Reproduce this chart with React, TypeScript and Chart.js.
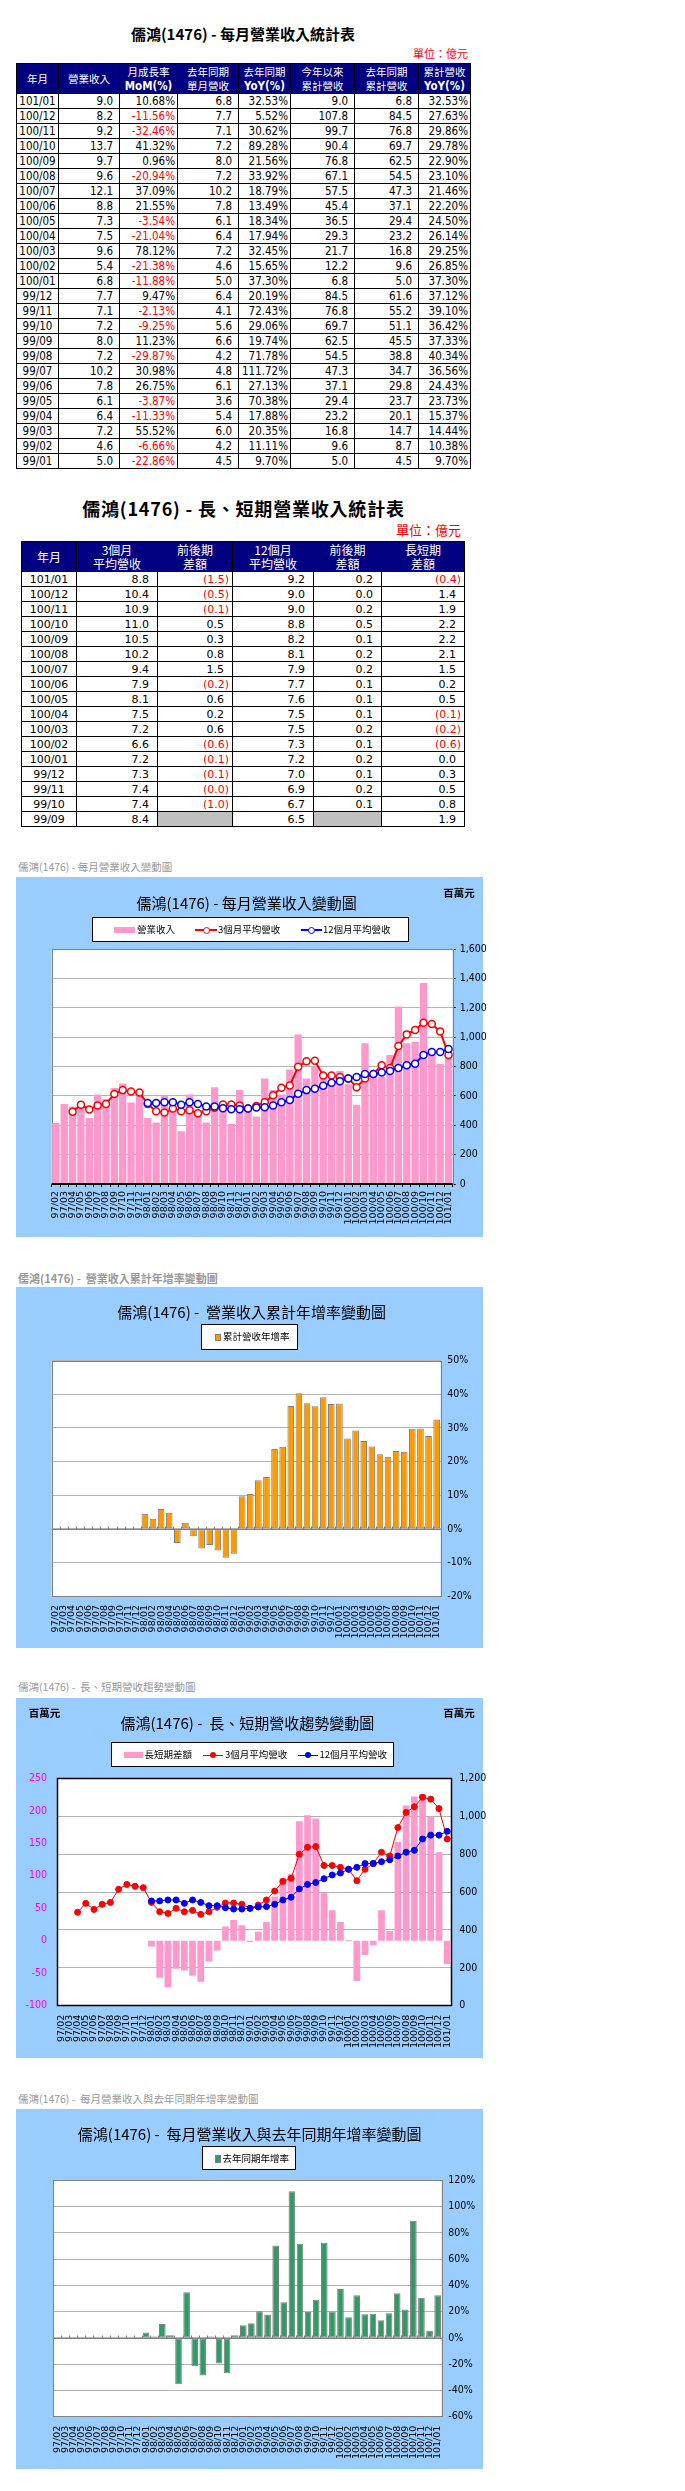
import React, { useEffect, useRef } from "react";
import { Chart, registerables } from "chart.js";
Chart.register(...registerables);

const CJK = '"Noto Sans CJK TC","Noto Sans CJK SC","Noto Sans",sans-serif';
const NARROW = '"Liberation Sans Narrow","Arial Narrow","DejaVu Sans Condensed","Liberation Sans",sans-serif';
const DEJAVU = '"DejaVu Sans",sans-serif';

// ---------------- chart data (百萬元 / %) ----------------
const months = [
  "97/02","97/03","97/04","97/05","97/06","97/07","97/08","97/09","97/10","97/11","97/12",
  "98/01","98/02","98/03","98/04","98/05","98/06","98/07","98/08","98/09","98/10","98/11","98/12",
  "99/01","99/02","99/03","99/04","99/05","99/06","99/07","99/08","99/09","99/10","99/11","99/12",
  "100/01","100/02","100/03","100/04","100/05","100/06","100/07","100/08","100/09","100/10","100/11","100/12",
  "101/01",
];
const revenue = [
  416, 545, 529, 550, 450, 610, 580, 655, 685, 555, 630,
  450, 420, 600, 540, 360, 610, 480, 420, 660, 560, 410, 640,
  500, 460, 720, 640, 610, 780, 1020, 720, 800, 720, 710, 770,
  680, 540, 960, 750, 730, 880, 1210, 960, 970, 1370, 920, 820,
  900,
];
const avg3 = [
  null, null, 493, 540, 508, 535, 545, 614, 640, 630, 623,
  545, 496, 487, 514, 496, 503, 482, 496, 519, 542, 542, 535,
  514, 531, 558, 605, 656, 672, 799, 836, 840, 740, 740, 730,
  720, 660, 720, 750, 810, 790, 940, 1020, 1050, 1100, 1090, 1040,
  880,
];
const avg12 = [
  null, null, null, null, null, null, null, null, null, null, null,
  553, 553, 558, 558, 540, 558, 545, 528, 528, 517, 510, 510,
  514, 521, 523, 535, 558, 572, 616, 640, 650, 670, 690, 700,
  720, 730, 750, 750, 760, 770, 790, 810, 820, 880, 900, 900,
  920,
];
const longShortDiff = [
  null, null, null, null, null, null, null, null, null, null, null,
  -9, -57, -72, -43, -46, -54, -63, -32, -15, 22, 32, 24,
  -2, 14, 29, 68, 96, 103, 184, 193, 188, 74, 47, 29,
  1, -62, -22, -7, 47, 15, 152, 208, 222, 226, 191, 136,
  -36,
];
const cumYoY = [
  null, null, null, null, null, null, null, null, null, null, null,
  4.5, 3.0, 5.9, 4.8, -4.2, 1.8, -2.2, -5.9, -4.8, -6.5, -8.6, -7.4,
  9.70, 10.38, 14.44, 15.37, 23.73, 24.43, 36.56, 40.34, 37.33, 36.42, 39.10, 37.12,
  37.30, 26.85, 29.25, 26.14, 24.50, 22.20, 21.46, 23.10, 22.90, 29.78, 29.86, 27.63,
  32.53,
];
const monthlyYoY = [
  null, null, null, null, null, null, null, null, null, null, null,
  4.1, 1.0, 10.5, 2.0, -35.2, 34.7, -21.5, -28.6, 1.0, -19.4, -27.0, 2.0,
  9.70, 11.11, 20.35, 17.88, 70.38, 27.13, 111.72, 71.78, 19.74, 29.06, 72.43, 20.19,
  37.30, 15.65, 32.45, 17.94, 18.34, 13.49, 18.79, 33.92, 21.56, 89.28, 30.62, 5.52,
  32.53,
];
// axis ranges [min, max, step]
const revenueAxis = [0, 1600, 200];
const cumYoYAxis = [-20, 50, 10];
const diffAxis = [-100, 250, 50];
const avgAxis = [0, 1200, 200];
const yoyAxis = [-60, 120, 20];

// ---------------- table 1 data (億元) ----------------
const t1Months = ["101/01","100/12","100/11","100/10","100/09","100/08","100/07","100/06","100/05","100/04","100/03","100/02","100/01","99/12","99/11","99/10","99/09","99/08","99/07","99/06","99/05","99/04","99/03","99/02","99/01"];
const t1Revenue = [9.0,8.2,9.2,13.7,9.7,9.6,12.1,8.8,7.3,7.5,9.6,5.4,6.8,7.7,7.1,7.2,8.0,7.2,10.2,7.8,6.1,6.4,7.2,4.6,5.0];
const t1MoM = [10.68,-11.56,-32.46,41.32,0.96,-20.94,37.09,21.55,-3.54,-21.04,78.12,-21.38,-11.88,9.47,-2.13,-9.25,11.23,-29.87,30.98,26.75,-3.87,-11.33,55.52,-6.66,-22.86];
const t1LastYear = [6.8,7.7,7.1,7.2,8.0,7.2,10.2,7.8,6.1,6.4,7.2,4.6,5.0,6.4,4.1,5.6,6.6,4.2,4.8,6.1,3.6,5.4,6.0,4.2,4.5];
const t1YoY = [32.53,5.52,30.62,89.28,21.56,33.92,18.79,13.49,18.34,17.94,32.45,15.65,37.30,20.19,72.43,29.06,19.74,71.78,111.72,27.13,70.38,17.88,20.35,11.11,9.70];
const t1Cum = [9.0,107.8,99.7,90.4,76.8,67.1,57.5,45.4,36.5,29.3,21.7,12.2,6.8,84.5,76.8,69.7,62.5,54.5,47.3,37.1,29.4,23.2,16.8,9.6,5.0];
const t1LastCum = [6.8,84.5,76.8,69.7,62.5,54.5,47.3,37.1,29.4,23.2,16.8,9.6,5.0,61.6,55.2,51.1,45.5,38.8,34.7,29.8,23.7,20.1,14.7,8.7,4.5];
const t1CumYoY = [32.53,27.63,29.86,29.78,22.90,23.10,21.46,22.20,24.50,26.14,29.25,26.85,37.30,37.12,39.10,36.42,37.33,40.34,36.56,24.43,23.73,15.37,14.44,10.38,9.70];
const t1Headers = [["年月"], ["營業收入"], ["月成長率", "MoM(%)"], ["去年同期", "單月營收"], ["去年同期", "YoY(%)"], ["今年以來", "累計營收"], ["去年同期", "累計營收"], ["累計營收", "YoY(%)"]];

// ---------------- table 2 data (億元) ----------------
const t2Months = ["101/01","100/12","100/11","100/10","100/09","100/08","100/07","100/06","100/05","100/04","100/03","100/02","100/01","99/12","99/11","99/10","99/09"];
const t2Avg3 = [8.8,10.4,10.9,11.0,10.5,10.2,9.4,7.9,8.1,7.5,7.2,6.6,7.2,7.3,7.4,7.4,8.4];
const t2Avg3Diff = [-1.5,-0.5,-0.1,0.5,0.3,0.8,1.5,-0.2,0.6,0.2,0.6,-0.6,-0.1,-0.1,-0.04,-1.0,null];
const t2Avg12 = [9.2,9.0,9.0,8.8,8.2,8.1,7.9,7.7,7.6,7.5,7.5,7.3,7.2,7.0,6.9,6.7,6.5];
const t2Avg12Diff = [0.2,0.0,0.2,0.5,0.1,0.2,0.2,0.1,0.1,0.1,0.2,0.1,0.2,0.1,0.2,0.1,null];
const t2LongShort = [-0.4,1.4,1.9,2.2,2.2,2.1,1.5,0.2,0.5,-0.1,-0.2,-0.6,0.0,0.3,0.5,0.8,1.9];
const t2Headers = [["年月"], ["3個月", "平均營收"], ["前後期", "差額"], ["12個月", "平均營收"], ["前後期", "差額"], ["長短期", "差額"]];

// ---------------- helpers ----------------
type TP = { x: number; y: number; align?: "left" | "center" | "right"; style?: React.CSSProperties; children: React.ReactNode };
function T({ x, y, align = "center", style, children }: TP) {
  const tr = align === "center" ? "translate(-50%,-50%)" : align === "left" ? "translate(0,-50%)" : "translate(-100%,-50%)";
  return (
    <div style={{ position: "absolute", left: x, top: y, transform: tr, whiteSpace: "pre", lineHeight: 1, fontFamily: CJK, ...style }}>
      {children}
    </div>
  );
}
function Box({ l, t, w, h, style }: { l: number; t: number; w: number; h: number; style?: React.CSSProperties }) {
  return <div style={{ position: "absolute", left: l, top: t, width: w, height: h, boxSizing: "border-box", ...style }} />;
}

const framePlugin: any = {
  id: "frame",
  beforeDraw(chart: any) {
    const { ctx, chartArea: a } = chart;
    ctx.save();
    ctx.fillStyle = "#ffffff";
    ctx.fillRect(a.left, a.top, a.right - a.left, a.bottom - a.top);
    ctx.restore();
  },
  beforeDatasetsDraw(chart: any, _args: any, o: any) {
    const { ctx, chartArea: a } = chart;
    ctx.save();
    if (o.zeroLine) {
      const y0 = Math.round(chart.scales.y.getPixelForValue(0)) + 0.5;
      const n = chart.data.labels.length;
      const w = (a.right - a.left) / n;
      ctx.strokeStyle = "#808080";
      ctx.lineWidth = 1;
      ctx.beginPath();
      ctx.moveTo(a.left, y0);
      ctx.lineTo(a.right, y0);
      for (let i = 0; i <= n; i++) {
        const x = Math.round(a.left + i * w) + 0.5;
        ctx.moveTo(x, y0);
        ctx.lineTo(x, y0 - 3);
      }
      ctx.stroke();
    }
    ctx.strokeStyle = o.color || "#808080";
    ctx.lineWidth = o.width || 1;
    ctx.strokeRect(Math.round(a.left) + 0.5, Math.round(a.top) + 0.5, Math.round(a.right - a.left), Math.round(a.bottom - a.top));
    ctx.restore();
  },
  afterDatasetsDraw(chart: any, _args: any, o: any) {
    if (!o.bottomColor) return;
    const { ctx, chartArea: a } = chart;
    ctx.save();
    ctx.strokeStyle = o.bottomColor;
    ctx.lineWidth = o.bottomWidth || 2;
    ctx.beginPath();
    ctx.moveTo(a.left, a.bottom);
    ctx.lineTo(a.right, a.bottom);
    ctx.stroke();
    ctx.restore();
  },
};

const CW = 480;
const CH = 360;
const CL = 16;

function ChartCanvas({ top, build }: { top: number; build: () => any }) {
  const ref = useRef<HTMLCanvasElement>(null);
  useEffect(() => {
    const chart = new Chart(ref.current as HTMLCanvasElement, build());
    return () => chart.destroy();
  }, []);
  return <canvas ref={ref} width={CW} height={CH} style={{ position: "absolute", left: CL, top, width: CW, height: CH }} />;
}

const xTicks = (padding: number) => ({
  autoSkip: false,
  minRotation: 90,
  maxRotation: 90,
  padding,
  color: "#000",
  font: { family: DEJAVU, size: 9.5 },
});
const yFont = { family: NARROW, size: 10.5 };

// ---------------- chart configs ----------------
function chart1Config() {
  const top = 877;
  const plot = { l: 51.7, t: 949.3, r: 452.7, b: 1184 };
  return {
    type: "bar",
    data: {
      labels: months,
      datasets: [
        { type: "bar", label: "營業收入", data: revenue, backgroundColor: "#FF99CC", barPercentage: 0.88, categoryPercentage: 1, order: 3 },
        { type: "line", label: "3個月平均營收", data: avg3, borderColor: "#FF0000", borderWidth: 2, pointRadius: 3.5, pointBackgroundColor: "#ffffff", pointBorderColor: "#FF0000", pointBorderWidth: 1.5, order: 2 },
        { type: "line", label: "12個月平均營收", data: avg12, borderColor: "#0000FF", borderWidth: 2, pointRadius: 3.5, pointBackgroundColor: "#ffffff", pointBorderColor: "#0000FF", pointBorderWidth: 1.5, order: 1 },
      ],
    },
    options: {
      responsive: false, animation: false, devicePixelRatio: 1,
      layout: { padding: { left: plot.l - CL, top: plot.t - top, right: 0, bottom: 0 } },
      plugins: { legend: { display: false }, tooltip: { enabled: false }, frame: { color: "#808080", width: 1, bottomColor: "#000", bottomWidth: 2 } },
      scales: {
        x: {
          grid: { display: true, drawOnChartArea: false, drawTicks: true, tickLength: 3, color: "#000" },
          border: { display: false },
          ticks: xTicks(4),
          afterFit: (s: any) => { s.height = top + CH - plot.b; },
        },
        y: {
          position: "right", min: revenueAxis[0], max: revenueAxis[1],
          ticks: { stepSize: revenueAxis[2], padding: 4, color: "#000", font: yFont, callback: (v: any) => Number(v).toLocaleString("en-US") },
          grid: { color: "#b4b4b4", tickLength: 3, tickColor: "#000" },
          border: { display: false },
          afterFit: (s: any) => { s.width = CL + CW - plot.r; },
        },
      },
    },
    plugins: [framePlugin],
  };
}

function pctBarConfig(top: number, plot: any, data: any[], label: string, color: string, axis: number[]) {
  return {
    type: "bar",
    data: {
      labels: months,
      datasets: [
        { label, data, backgroundColor: color, borderColor: "#808080", borderWidth: 1, borderSkipped: false, barPercentage: 0.82, categoryPercentage: 1 },
      ],
    },
    options: {
      responsive: false, animation: false, devicePixelRatio: 1,
      layout: { padding: { left: plot.l - CL, top: plot.t - top, right: 0, bottom: 0 } },
      plugins: { legend: { display: false }, tooltip: { enabled: false }, frame: { color: "#808080", width: 1, zeroLine: true } },
      scales: {
        x: {
          grid: { display: false, drawTicks: false },
          border: { display: false },
          ticks: xTicks(9),
          afterFit: (s: any) => { s.height = top + CH - plot.b; },
        },
        y: {
          position: "right", min: axis[0], max: axis[1],
          ticks: { stepSize: axis[2], padding: 6.6, color: "#000", font: yFont, callback: (v: any) => `${v}%` },
          grid: { color: "#b4b4b4", drawTicks: false },
          border: { display: false },
          afterFit: (s: any) => { s.width = CL + CW - plot.r; },
        },
      },
    },
    plugins: [framePlugin],
  };
}

function chart3Config() {
  const top = 1698;
  const plot = { l: 57, t: 1778.3, r: 451.3, b: 2005.7 };
  return {
    type: "bar",
    data: {
      labels: months,
      datasets: [
        { type: "bar", label: "長短期差額", data: longShortDiff, yAxisID: "yL", backgroundColor: "#FF99CC", barPercentage: 0.82, categoryPercentage: 1, order: 3 },
        { type: "line", label: "3個月平均營收", data: avg3, yAxisID: "yR", borderColor: "#FF0000", borderWidth: 1, pointRadius: 3, pointBackgroundColor: "#FF0000", pointBorderColor: "#FF0000", pointBorderWidth: 1, order: 2 },
        { type: "line", label: "12個月平均營收", data: avg12, yAxisID: "yR", borderColor: "#0000FF", borderWidth: 1, pointRadius: 3, pointBackgroundColor: "#0000FF", pointBorderColor: "#0000FF", pointBorderWidth: 1, order: 1 },
      ],
    },
    options: {
      responsive: false, animation: false, devicePixelRatio: 1,
      layout: { padding: { left: 0, top: plot.t - top, right: 0, bottom: 0 } },
      plugins: { legend: { display: false }, tooltip: { enabled: false }, frame: { color: "#000", width: 1.5 } },
      scales: {
        x: {
          grid: { display: false, drawTicks: false },
          border: { display: false },
          ticks: xTicks(9),
          afterFit: (s: any) => { s.height = top + CH - plot.b; },
        },
        yL: {
          position: "left", min: diffAxis[0], max: diffAxis[1],
          ticks: { stepSize: diffAxis[2], padding: 10, color: "#FF00FF", font: yFont },
          grid: { display: false, drawTicks: false },
          border: { display: false },
          afterFit: (s: any) => { s.width = plot.l - CL; },
        },
        yR: {
          position: "right", min: avgAxis[0], max: avgAxis[1],
          ticks: { stepSize: avgAxis[2], padding: 8, color: "#000", font: yFont, callback: (v: any) => Number(v).toLocaleString("en-US") },
          grid: { color: "#b4b4b4", drawTicks: false },
          border: { display: false },
          afterFit: (s: any) => { s.width = CL + CW - plot.r; },
        },
      },
    },
    plugins: [framePlugin],
  };
}

// ---------------- tables ----------------
const cell = (w: number, h: number, extra?: React.CSSProperties): React.CSSProperties => ({
  boxSizing: "border-box", width: w, height: h, borderRight: "1px solid #000", borderBottom: "1px solid #000",
  display: "flex", alignItems: "center", overflow: "hidden", whiteSpace: "nowrap", flex: "none", ...extra,
});

const t1Widths = [42, 61, 58, 61, 52, 64, 64, 52];
function Table1() {
  const num = (v: number, w: number) => <div style={cell(w, 15, { justifyContent: "flex-end", paddingRight: 6 })}>{v.toFixed(1)}</div>;
  const pct = (v: number, w: number) => (
    <div style={cell(w, 15, { justifyContent: "flex-end", paddingRight: 2, color: v < 0 ? "#FF0000" : "#000" })}>{v.toFixed(2)}%</div>
  );
  return (
    <div style={{ position: "absolute", left: 16, top: 63, borderTop: "1px solid #000", borderLeft: "1px solid #000", fontFamily: NARROW, fontSize: 11.5, color: "#000" }}>
      <div style={{ display: "flex" }}>
        {t1Headers.map((lines, i) => (
          <div key={i} style={cell(t1Widths[i], 30, { background: "#000080", color: "#fff", flexDirection: "column", justifyContent: "center" })}>
            {lines.map((ln, j) => (
              <div key={j} style={{ lineHeight: "14px", fontFamily: /[A-Za-z]/.test(ln) ? NARROW : CJK, fontWeight: /[A-Za-z]/.test(ln) ? 700 : 400, fontSize: /[A-Za-z]/.test(ln) ? 11.5 : 10.5 }}>{ln}</div>
            ))}
          </div>
        ))}
      </div>
      {t1Months.map((m, i) => (
        <div key={m} style={{ display: "flex" }}>
          <div style={cell(t1Widths[0], 15, { justifyContent: "center" })}>{m}</div>
          {num(t1Revenue[i], t1Widths[1])}
          {pct(t1MoM[i], t1Widths[2])}
          {num(t1LastYear[i], t1Widths[3])}
          {pct(t1YoY[i], t1Widths[4])}
          {num(t1Cum[i], t1Widths[5])}
          {num(t1LastCum[i], t1Widths[6])}
          {pct(t1CumYoY[i], t1Widths[7])}
        </div>
      ))}
    </div>
  );
}

const t2Widths = [55, 81, 75, 81, 68, 83];
function Table2() {
  const val = (v: number | null, w: number) => {
    if (v === null) return <div style={cell(w, 15, { background: "#C0C0C0" })} />;
    const neg = v < 0;
    return (
      <div style={cell(w, 15, { justifyContent: "flex-end", paddingRight: neg ? 3 : 8, color: neg ? "#FF0000" : "#000" })}>
        {neg ? `(${Math.abs(v).toFixed(1)})` : v.toFixed(1)}
      </div>
    );
  };
  return (
    <div style={{ position: "absolute", left: 21, top: 541, borderTop: "1px solid #000", borderLeft: "1px solid #000", fontFamily: DEJAVU, fontSize: 11, color: "#000" }}>
      <div style={{ display: "flex" }}>
        {t2Headers.map((lines, i) => (
          <div key={i} style={cell(t2Widths[i], 30, { background: "#000080", color: "#fff", flexDirection: "column", justifyContent: "center", fontFamily: CJK, fontSize: 12 })}>
            {lines.map((ln, j) => (
              <div key={j} style={{ lineHeight: "14px" }}>{ln}</div>
            ))}
          </div>
        ))}
      </div>
      {t2Months.map((m, i) => (
        <div key={m} style={{ display: "flex" }}>
          <div style={cell(t2Widths[0], 15, { justifyContent: "center" })}>{m}</div>
          {val(t2Avg3[i], t2Widths[1])}
          {val(t2Avg3Diff[i], t2Widths[2])}
          {val(t2Avg12[i], t2Widths[3])}
          {val(t2Avg12Diff[i], t2Widths[4])}
          {val(t2LongShort[i], t2Widths[5])}
        </div>
      ))}
    </div>
  );
}

const caption: React.CSSProperties = { fontSize: 10.5, color: "#999" };
const chartTitle: React.CSSProperties = { fontSize: 15, color: "#000" };
const unit: React.CSSProperties = { fontSize: 10.5, fontWeight: 700, color: "#000" };
const legendText: React.CSSProperties = { fontSize: 9.5, color: "#000" };
const legendBox: React.CSSProperties = { background: "#fff", border: "1px solid #000" };
const panel: React.CSSProperties = { background: "#99CCFF" };

export default function App() {
  return (
    <div style={{ position: "absolute", left: 0, top: 0, width: 685, height: 2491, background: "#fff", overflow: "hidden" }}>
      {/* Table 1 */}
      <T x={243} y={33} style={{ fontSize: 15, fontWeight: 700 }}>儒鴻(1476) - 每月營業收入統計表</T>
      <T x={468} y={53} align="right" style={{ fontSize: 11, color: "#FF0000" }}>單位：億元</T>
      <Table1 />

      {/* Table 2 */}
      <T x={243.5} y={508} style={{ fontSize: 18, fontWeight: 700, letterSpacing: 0.8 }}>儒鴻(1476) - 長、短期營業收入統計表</T>
      <T x={461} y={529} align="right" style={{ fontSize: 13, color: "#FF0000" }}>單位：億元</T>
      <Table2 />

      {/* Chart 1 */}
      <T x={18} y={866.7} align="left" style={caption}>儒鴻(1476) - 每月營業收入變動圖</T>
      <Box l={16} t={877} w={467} h={360} style={panel} />
      <ChartCanvas top={877} build={chart1Config} />
      <T x={246.7} y={901.7} style={chartTitle}>儒鴻(1476) - 每月營業收入變動圖</T>
      <T x={459} y={893} style={unit}>百萬元</T>
      <Box l={92} t={917} w={317} h={25} style={legendBox} />
      <Box l={114} t={927} w={21} h={6} style={{ background: "#FF99CC" }} />
      <T x={137} y={930} align="left" style={legendText}>營業收入</T>
      <Box l={195} t={929} w={22} h={2} style={{ background: "#FF0000" }} />
      <Box l={202.5} t={926.5} w={7} h={7} style={{ background: "#fff", border: "1.5px solid #FF0000", borderRadius: "50%" }} />
      <T x={218} y={930} align="left" style={legendText}>3個月平均營收</T>
      <Box l={301} t={929} w={21} h={2} style={{ background: "#0000FF" }} />
      <Box l={308} t={926.5} w={7} h={7} style={{ background: "#fff", border: "1.5px solid #0000FF", borderRadius: "50%" }} />
      <T x={323} y={930} align="left" style={legendText}>12個月平均營收</T>

      {/* Chart 2 */}
      <T x={18} y={1277.7} align="left" style={{ ...caption, fontSize: 11, fontWeight: 700 }}>儒鴻(1476) -  營業收入累計年增率變動圖</T>
      <Box l={16} t={1287} w={467} h={361} style={panel} />
      <ChartCanvas top={1287} build={() => pctBarConfig(1287, { l: 51.7, t: 1360.7, r: 440.7, b: 1596 }, cumYoY, "累計營收年增率", "#FF9900", cumYoYAxis)} />
      <T x={251.7} y={1311} style={chartTitle}>儒鴻(1476) -  營業收入累計年增率變動圖</T>
      <Box l={201} t={1324} w={97} h={26} style={legendBox} />
      <Box l={215} t={1333.5} w={6} h={7} style={{ background: "#FF9900", border: "1px solid #808080" }} />
      <T x={223} y={1337} align="left" style={legendText}>累計營收年增率</T>

      {/* Chart 3 */}
      <T x={18} y={1687.3} align="left" style={caption}>儒鴻(1476) -  長、短期營收趨勢變動圖</T>
      <Box l={16} t={1698} w={467} h={360} style={panel} />
      <ChartCanvas top={1698} build={chart3Config} />
      <T x={247.3} y={1722.3} style={chartTitle}>儒鴻(1476) -  長、短期營收趨勢變動圖</T>
      <T x={44.5} y={1713.3} style={unit}>百萬元</T>
      <T x={459} y={1713.3} style={unit}>百萬元</T>
      <Box l={111} t={1742} w={283} h={25} style={legendBox} />
      <Box l={124} t={1752} w={19} h={6} style={{ background: "#FF99CC" }} />
      <T x={144.5} y={1755} align="left" style={legendText}>長短期差額</T>
      <Box l={203} t={1754.5} w={20} h={1} style={{ background: "#FF0000" }} />
      <Box l={210} t={1752} w={6} h={6} style={{ background: "#FF0000", borderRadius: "50%" }} />
      <T x={225} y={1755} align="left" style={legendText}>3個月平均營收</T>
      <Box l={298} t={1754.5} w={20} h={1} style={{ background: "#0000FF" }} />
      <Box l={305} t={1752} w={6} h={6} style={{ background: "#0000FF", borderRadius: "50%" }} />
      <T x={319.5} y={1755} align="left" style={legendText}>12個月平均營收</T>

      {/* Chart 4 */}
      <T x={18} y={2098.7} align="left" style={caption}>儒鴻(1476) -  每月營業收入與去年同期年增率變動圖</T>
      <Box l={16} t={2109} w={467} h={360} style={panel} />
      <ChartCanvas top={2109} build={() => pctBarConfig(2109, { l: 53, t: 2180.3, r: 441.7, b: 2416.7 }, monthlyYoY, "去年同期年增率", "#339966", yoyAxis)} />
      <T x={249.7} y={2133.3} style={chartTitle}>儒鴻(1476) -  每月營業收入與去年同期年增率變動圖</T>
      <Box l={202} t={2146} w={94} h={24} style={legendBox} />
      <Box l={215} t={2155} w={6} h={8} style={{ background: "#339966", border: "1px solid #808080" }} />
      <T x={222.5} y={2159} align="left" style={legendText}>去年同期年增率</T>
    </div>
  );
}
